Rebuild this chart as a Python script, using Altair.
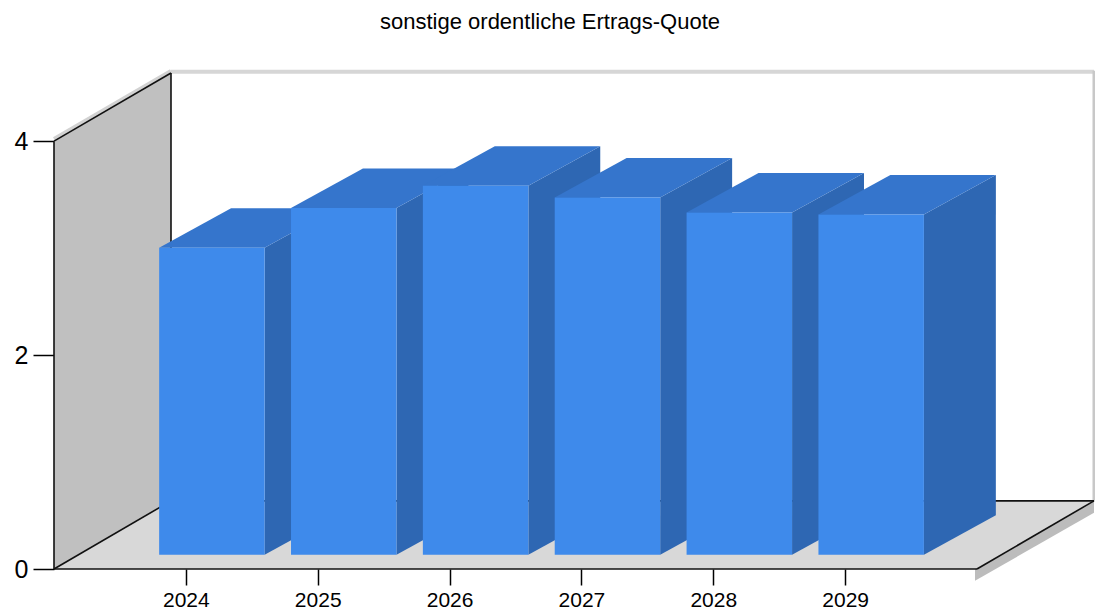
import json
import altair as alt
import pandas as pd

# ---------------- data ----------------
years = ["2024", "2025", "2026", "2027", "2028", "2029"]
values = [2.87, 3.24, 3.45, 3.34, 3.20, 3.18]
y_ticks = [0, 2, 4]
title_text = "sonstige ordentliche Ertrags-Quote"

# ---------------- 3D geometry (scale units) ----------------
N = len(years)
XMAX = N + 1          # category slots on the front plane
YMAX = max(y_ticks)   # wall height
DX = 0.8873           # wall depth offset along x (slots)
DY = 0.637            # depth offset along y (value units)
BDX = 0.9404          # bar depth slant along x (slots)
T0, T1 = 0.21, 0.79   # bar front/back depth fraction
HALF = 0.4            # half bar width (slots)

FRONT = "#3e8aeb"
TOP = "#3575cc"
SIDE = "#2e67b3"
FONT = "Liberation Sans"

xs = alt.Scale(domain=[0, XMAX + DX], nice=False, zero=False)
ys = alt.Scale(domain=[0, YMAX + DY], nice=False, zero=False)

AX = alt.Axis(values=list(range(1, N + 1)),
              labelExpr=f"{json.dumps(years)}[round(datum.value) - 1]",
              domain=False, grid=False, tickSize=16, tickColor="black", tickWidth=1.5,
              labelFontSize=21, labelFont=FONT, labelColor="black", labelPadding=4,
              labelFlush=False, labelOverlap=False, title=None)
AY = alt.Axis(values=y_ticks, domain=False, grid=False, tickSize=21, tickColor="black",
              tickWidth=1.5, labelFontSize=25, labelFont=FONT, labelColor="black",
              labelPadding=5, labelFlush=False, labelOverlap=False, title=None)


def X(f):
    return alt.X(f, type="quantitative", scale=xs, axis=AX)


def Y(f):
    return alt.Y(f, type="quantitative", scale=ys, axis=AY)


# ---------------- walls ----------------
back_df = pd.DataFrame({"x": [DX], "x2": [XMAX + DX], "y": [DY], "y2": [YMAX + DY]})
back = alt.Chart(back_df).mark_rect(fill="white").encode(x=X("x"), x2="x2", y=Y("y"), y2="y2")

back_top = alt.Chart(pd.DataFrame({"x": [DX], "x2": [XMAX + DX], "y": [YMAX + DY + 0.012], "y2": [YMAX + DY + 0.012]})) \
    .mark_rule(color="#d6d6d6", strokeWidth=4).encode(x=X("x"), x2="x2", y=Y("y"), y2="y2")
back_right = alt.Chart(pd.DataFrame({"x": [XMAX + DX], "x2": [XMAX + DX], "y": [DY], "y2": [YMAX + DY + 0.02]})) \
    .mark_rule(color="#c8c8c8", strokeWidth=3).encode(x=X("x"), x2="x2", y=Y("y"), y2="y2")

left_df = pd.DataFrame({"x": [0, DX], "y": [0, DY], "y2": [YMAX, YMAX + DY]})
left_wall = alt.Chart(left_df).mark_area(color="#c0c0c0", orient="vertical", opacity=1) \
    .encode(x=X("x"), y=Y("y"), y2="y2")

floor_df = pd.DataFrame({"y": [0, DY], "x": [0, DX], "x2": [XMAX, XMAX + DX]})
floor = alt.Chart(floor_df).mark_area(color="#d8d8d8", orient="horizontal", opacity=1) \
    .encode(y=Y("y"), x=X("x"), x2="x2")

SH = 0.11
shadow_df = pd.DataFrame({"x": [XMAX - 0.015, XMAX + DX], "y": [-SH, DY - SH], "y2": [0, DY]})
shadow = alt.Chart(shadow_df).mark_area(color="#bcbcbc", orient="vertical", opacity=1) \
    .encode(x=X("x"), y=Y("y"), y2="y2")

wall_shadow_df = pd.DataFrame({"x": [0], "y": [YMAX + 0.02], "x2": [DX], "y2": [YMAX + DY + 0.02]})
wall_shadow = alt.Chart(wall_shadow_df).mark_rule(color="#d2d2d2", strokeWidth=4) \
    .encode(x=X("x"), y=Y("y"), x2="x2", y2="y2")

edges_df = pd.DataFrame({
    "x":  [0, 0, DX, 0, 0, XMAX, DX],
    "y":  [0, YMAX, DY, 0, 0, 0, DY],
    "x2": [0, DX, DX, DX, XMAX, XMAX + DX, XMAX + DX],
    "y2": [YMAX, YMAX + DY, YMAX + DY, DY, 0, DY, DY],
})
edges = alt.Chart(edges_df).mark_rule(color="#111111", strokeWidth=1.6) \
    .encode(x=X("x"), y=Y("y"), x2="x2", y2="y2")

# ---------------- bars ----------------
front_rows, side_rows, top_rows = [], [], []
for i, (yr, v) in enumerate(zip(years, values), start=1):
    front_rows.append({"year": yr, "value": v,
                       "x": i - HALF + T0 * BDX, "x2": i + HALF + T0 * BDX,
                       "y": T0 * DY, "y2": v + T0 * DY})
    for t in (T0, T1):
        side_rows.append({"year": yr, "x": i + HALF + t * BDX, "y": t * DY, "y2": v + t * DY})
        top_rows.append({"year": yr, "y": v + t * DY, "x": i - HALF + t * BDX, "x2": i + HALF + t * BDX})

sides = alt.Chart(pd.DataFrame(side_rows)).mark_area(color=SIDE, orient="vertical", opacity=1) \
    .encode(x=X("x"), y=Y("y"), y2="y2", detail="year:N")
tops = alt.Chart(pd.DataFrame(top_rows)).mark_area(color=TOP, orient="horizontal", opacity=1) \
    .encode(y=Y("y"), x=X("x"), x2="x2", detail="year:N")
fronts = alt.Chart(pd.DataFrame(front_rows)).mark_rect(color=FRONT) \
    .encode(x=X("x"), x2="x2", y=Y("y"), y2="y2")

chart = alt.layer(
    back, back_top, back_right, left_wall, floor, shadow, wall_shadow, edges,
    sides, tops, fronts,
).properties(
    width=1040, height=496,
    padding={"left": 46, "top": 65, "right": 1, "bottom": 45},
    autosize="none",
    title=alt.TitleParams(title_text, fontSize=22, font=FONT, fontWeight="normal",
                          color="black", anchor="middle", offset=35, dx=-24),
).configure_view(stroke=None)

chart.save("out.html", embed_options={"renderer": "svg", "actions": False})
